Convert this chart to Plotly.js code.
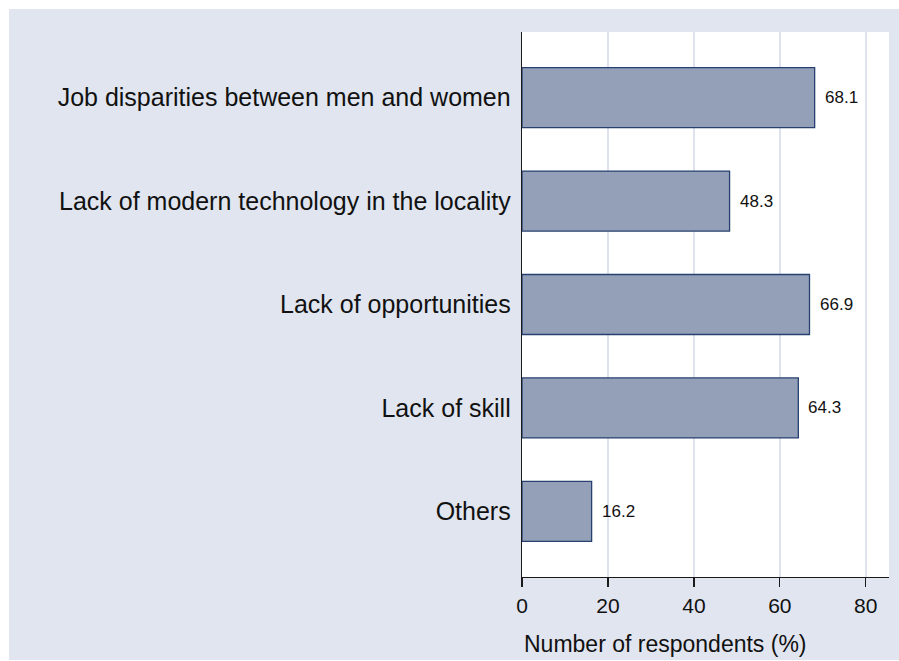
<!DOCTYPE html>
<html>
<head>
<meta charset="utf-8">
<script src="https://cdn.plot.ly/plotly-3.0.1.min.js"></script>
<style>
html,body{margin:0;padding:0;background:#ffffff;width:899px;height:661px;overflow:hidden;}
#chart{position:absolute;left:9px;top:9px;width:890px;height:651px;}
</style>
</head>
<body>
<div id="chart"></div>
<script>
const categories = [
  "Job disparities between men and women",
  "Lack of modern technology in the locality",
  "Lack of opportunities",
  "Lack of skill",
  "Others"
];
const values = [68.1, 48.3, 66.9, 64.3, 16.2];
const xTicks = [0, 20, 40, 60, 80];
const xTitle = "Number of respondents (%)";

const FONT = "Liberation Sans, Arial, Helvetica, sans-serif";

const trace = {
  type: "bar",
  orientation: "h",
  x: values,
  y: categories,
  width: 0.58,
  marker: { color: "#93a0b8", line: { color: "#27406f", width: 1.3 } },
  hoverinfo: "x+y"
};

const annotations = values.map((v, i) => ({
  x: v, y: categories[i], xref: "x", yref: "y",
  text: v.toFixed(1), showarrow: false,
  xanchor: "left", yanchor: "middle", xshift: 8,
  font: { family: FONT, size: 17, color: "#111111" }
}));

annotations.push({
  x: 0.39, y: -0.123, xref: "paper", yref: "paper",
  text: xTitle, showarrow: false,
  xanchor: "center", yanchor: "middle",
  font: { family: FONT, size: 23, color: "#111111" }
});

const layout = {
  width: 890,
  height: 651,
  margin: { l: 512.7, r: 10, t: 23, b: 83.3, pad: 0 },
  paper_bgcolor: "#e0e5ef",
  plot_bgcolor: "#ffffff",
  showlegend: false,
  font: { family: FONT, color: "#111111" },
  xaxis: {
    range: [0, 85.4],
    tickvals: xTicks,
    ticktext: xTicks.map(String),
    showgrid: true,
    gridcolor: "#dde2ee",
    gridwidth: 2,
    zeroline: false,
    showline: true,
    linecolor: "#1a1a1a",
    linewidth: 1.3,
    ticks: "outside",
    ticklen: 9,
    tickwidth: 1.3,
    tickcolor: "#1a1a1a",
    tickfont: { family: FONT, size: 21, color: "#111111" },
    fixedrange: true
  },
  yaxis: {
    type: "category",
    categoryorder: "array",
    categoryarray: categories,
    range: [4.635, -0.635],
    showgrid: false,
    zeroline: false,
    showline: true,
    linecolor: "#1a1a1a",
    linewidth: 1.3,
    ticks: "outside",
    ticklen: 5,
    tickcolor: "rgba(0,0,0,0)",
    tickfont: { family: FONT, size: 25, color: "#111111" },
    fixedrange: true
  },
  annotations: annotations
};

Plotly.newPlot("chart", [trace], layout, { displayModeBar: false, staticPlot: true });
</script>
</body>
</html>
